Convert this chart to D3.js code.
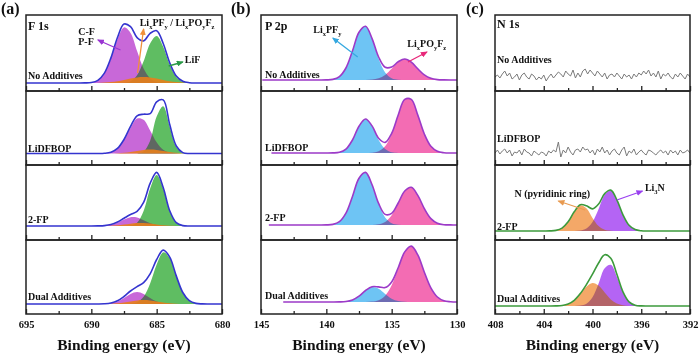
<!DOCTYPE html>
<html>
<head>
<meta charset="utf-8">
<script src="https://cdn.jsdelivr.net/npm/d3@7"></script>
<style>
  body { margin: 0; background: #fff; }
  svg text { font-family: "Liberation Serif", "Times New Roman", serif; font-weight: bold; fill: #111; }
</style>
</head>
<body>
<svg id="xps" width="700" height="354"></svg>
<script>
var samples = ["No Additives", "LiDFBOP", "2-FP", "Dual Additives"];

// F 1s: binding energy grid (eV) and fitted component intensities per sample
var f1sEnergy = [681, 681.5, 682, 682.5, 683, 683.5, 684, 684.5, 685, 685.5, 686,
                 686.5, 687, 687.5, 688, 688.5, 689, 689.5, 690, 690.5, 691];
var f1sCF = [
  [0,0,0,0,0,0,0,0.2,1.0,4.6,14.4,32.0,50.1,55.6,43.7,24.2,9.5,2.6,0.5,0.1,0],
  [0,0,0,0,0,0.2,0.9,3.8,11.2,23.1,33.8,35.0,25.6,13.3,4.9,1.3,0.2,0,0,0,0],
  [0,0,0,0,0,0,0,0.2,1.0,2.8,5.8,8.5,8.8,6.4,3.3,1.2,0.3,0.1,0,0,0],
  [0,0,0,0,0,0,0.2,0.8,2.5,6.0,10.1,12.0,10.1,6.0,2.5,0.8,0.2,0,0,0,0]
];
var f1sLiF = [
  [0,0,0,0.2,1.3,6.0,18.3,36.3,46.9,39.5,21.7,7.8,1.8,0.3,0,0,0,0,0,0,0],
  [0,0,0,0,0.7,6.6,26.6,47.2,36.9,12.7,1.9,0.1,0,0,0,0,0,0,0,0,0],
  [0,0,0,0,0.4,3.2,14.9,37.5,51.0,37.5,14.9,3.2,0.4,0,0,0,0,0,0,0,0],
  [0,0.1,0.6,3.3,11.5,27.9,46.0,51.6,39.4,20.5,7.3,1.8,0.3,0,0,0,0,0,0,0,0]
];
var f1sLiPF = [
  [0,0,0,0.1,0.4,0.9,1.8,3.0,4.4,5.6,6.0,5.6,4.4,3.0,1.8,0.9,0.4,0.1,0,0,0],
  [0,0,0,0,0.2,0.7,1.5,2.6,3.6,4.0,3.6,2.6,1.5,0.7,0.2,0,0,0,0,0,0],
  [0,0,0,0,0,0.1,0.3,0.8,1.6,2.4,2.9,2.9,2.3,1.4,0.7,0.3,0.1,0,0,0,0],
  [0,0,0,0,0,0.2,0.7,1.5,2.6,3.6,4.0,3.6,2.6,1.5,0.7,0.2,0,0,0,0,0]
];
var f1sTicks = [695, 690, 685, 680];
var f1sMinor = [692.5, 687.5, 682.5];

// P 2p
var p2pEnergy = [130, 130.5, 131, 131.5, 132, 132.5, 133, 133.5, 134, 134.5, 135, 135.5,
                 136, 136.5, 137, 137.5, 138, 138.5, 139, 139.5, 140, 140.5, 141];
var p2pLiPF = [
  [0,0,0,0,0,0,0,0,0,0.3,1.8,7.6,21.3,41.0,53.6,47.7,29.0,12.0,3.4,0.6,0.1,0,0],
  [0,0,0,0,0,0,0,0,0,0.1,0.7,3.9,13.0,26.8,34.0,26.8,13.0,3.9,0.7,0.1,0,0,0],
  [0,0,0,0,0,0,0,0,0,0.3,1.8,7.5,20.9,40.2,52.6,46.8,28.5,11.8,3.3,0.6,0.1,0,0],
  [0,0,0,0,0,0,0,0,0.2,0.9,3.3,8.1,13.3,14.9,11.4,5.9,2.1,0.5,0.1,0,0,0,0]
];
var p2pLiPOF = [
  [0,0,0.1,0.4,1.7,5.1,11.2,17.9,21.0,17.9,11.2,5.1,1.7,0.4,0.1,0,0,0,0,0,0,0,0],
  [0,0,0.3,1.7,6.7,19.0,37.9,53.6,53.6,37.9,19.0,6.7,1.7,0.3,0,0,0,0,0,0,0,0,0],
  [0,0.1,0.3,1.8,6.4,16.4,29.6,37.7,34.0,21.7,9.8,3.1,0.7,0.1,0,0,0,0,0,0,0,0,0],
  [0,0.3,1.3,5.0,14.1,29.8,47.1,55.9,49.9,33.4,16.8,6.3,1.8,0.4,0.1,0,0,0,0,0,0,0,0]
];
var p2pTicks = [145, 140, 135, 130];
var p2pMinor = [142.5, 137.5, 132.5];

// N 1s
var n1sEnergy = [395, 395.5, 396, 396.5, 397, 397.5, 398, 398.5, 399, 399.5, 400,
                 400.5, 401, 401.5, 402, 402.5, 403, 403.5, 404];
var n1sPyr = [null, null,
  [0,0,0,0,0,0,0,0.2,1.2,4.9,13.0,22.7,25.8,19.1,9.2,2.9,0.6,0.1,0],
  [0,0,0,0,0.1,0.7,2.4,6.6,13.5,20.4,23.0,19.2,12.0,5.6,1.9,0.5,0.1,0,0]
];
var n1sLi3N = [null, null,
  [0,0,0.2,1.4,5.7,16.2,31.1,40.7,36.2,22.0,9.1,2.6,0.5,0.1,0,0,0,0,0],
  [0,0,0.1,0.8,4.1,13.5,29.3,41.2,37.8,22.6,8.8,2.2,0.4,0,0,0,0,0,0]
];
// raw signal (no N 1s peak), 408 -> 392 eV in 0.2 eV steps
var n1sNoise = [
  [0,2,-1,3,6,1,4,-2,0,3, -3,2,4,0,-2,3,1,-3,0,-2, 2,-4,0,3,-1,2,5,3,0,6,
   3,1,7,-1,4,0,6,8,3,7, 4,1,6,3,0,4,-2,2,3,0, 4,1,-2,3,0,2,-2,3,0,4,
   2,6,3,7,1,4,0,6,-2,3, 1,4,0,-2,3,0,4,1,-2,3, 0],
  [0,3,-1,2,4,0,3,-3,1,0, 3,-2,4,1,0,-3,2,0,-2,1, 0,-3,2,0,3,1,11,-4,3,0,
   6,1,-2,3,4,1,6,3,4,0, 3,-2,4,1,6,0,3,-2,2,4, 0,-2,3,6,-3,2,0,4,-2,1,
   3,0,-2,3,2,0,-2,1,3,0, 2,-2,3,0,2,-2,3,0,1,3, 0],
  null, null
];
var noiseEnergy = d3.range(81).map(function(i) { return 408 - i * 0.2; });
var n1sTicks = [408, 404, 400, 396, 392];
var n1sMinor = [406, 402, 398, 394];

// layout
var rows = [15, 91, 165, 240, 314];

var panels = [
  { letter: "(a)", letterX: 1, left: 26, right: 222, domain: [695, 680],
    major: f1sTicks, minor: f1sMinor, element: "F 1s", energy: f1sEnergy,
    comps: [
      { series: f1sCF, color: "#c868d8", blend: "darken", opacity: 1 },
      { series: f1sLiF, color: "#5fbd62", blend: "darken", opacity: 1 },
      { series: f1sLiPF, color: "#e8801c", blend: "normal", opacity: 0.9 }
    ],
    line: "#3434cf", lineStart: [695, 695, 695, 695],
    base: [8, 11.5, 14, 10], labelY: [79, 152, 223, 300], labelDx: 2, elemY: 30 },
  { letter: "(b)", letterX: 231, left: 261, right: 457, domain: [145, 130],
    major: p2pTicks, minor: p2pMinor, element: "P 2p", energy: p2pEnergy,
    comps: [
      { series: p2pLiPF, color: "#6ec4f4", blend: "darken", opacity: 1 },
      { series: p2pLiPOF, color: "#f36cb3", blend: "darken", opacity: 1 }
    ],
    line: "#9c3ac8", lineStart: [144.9, 144.2, 144.4, 143.3],
    base: [11, 12, 15, 12], labelY: [78, 151, 221, 299], labelDx: 4, elemY: 30 },
  { letter: "(c)", letterX: 466, left: 495, right: 690, domain: [408, 392],
    major: n1sTicks, minor: n1sMinor, element: "N 1s", energy: n1sEnergy,
    comps: [
      { series: n1sPyr, color: "#f4a868", blend: "darken", opacity: 1 },
      { series: n1sLi3N, color: "#b464f4", blend: "darken", opacity: 1 }
    ],
    noise: n1sNoise,
    line: "#3c9a3c", lineStart: [408, 408, 408, 408],
    base: [14, 12, 9, 8], labelY: [63, 142, 230, 302], labelDx: 2, elemY: 28 }
];

// annotations (energy, intensity) on a given sub-plot
var annotations = [
  { panel: 0, row: 0, parts: [["C-F"]], at: [691.0, 48] },
  { panel: 0, row: 0, parts: [["P-F"]], at: [691.0, 38] },
  { panel: 0, row: 0, parts: [["Li"], ["x", 1], ["PF"], ["y", 1], [" / Li"], ["x", 1], ["PO"], ["y", 1], ["F"], ["z", 1]], at: [686.3, 57] },
  { panel: 0, row: 0, parts: [["LiF"]], at: [682.85, 20] },
  { panel: 1, row: 0, parts: [["Li"], ["x", 1], ["PF"], ["y", 1]], at: [141.0, 47] },
  { panel: 1, row: 0, parts: [["Li"], ["x", 1], ["PO"], ["y", 1], ["F"], ["z", 1]], at: [133.8, 33] },
  { panel: 2, row: 2, parts: [["N (pyridinic ring)"]], at: [406.4, 34] },
  { panel: 2, row: 2, parts: [["Li"], ["3", 1], ["N"]], at: [395.7, 40] }
];
var arrows = [
  { panel: 0, row: 0, from: [687.77, 33], to: [689.5, 43], color: "#9a35d2" },
  { panel: 0, row: 0, from: [686.46, 10], to: [686.0, 54], color: "#f0903a" },
  { panel: 0, row: 0, from: [684.08, 17], to: [683.0, 21], color: "#2a9a48" },
  { panel: 1, row: 0, from: [137.6, 23], to: [139.5, 42], color: "#35a8e0" },
  { panel: 1, row: 0, from: [133.75, 18], to: [132.3, 28], color: "#e8287a" },
  { panel: 2, row: 2, from: [400.6, 21], to: [402.8, 30], color: "#e89a50" },
  { panel: 2, row: 2, from: [398.0, 31], to: [395.9, 40], color: "#9a40f0" }
];

var svg = d3.select("#xps");
var defs = svg.append("defs");

function richText(g, x, y, parts, size) {
  var t = g.append("text").attr("x", x).attr("y", y).attr("font-size", size);
  var shifted = 0;
  parts.forEach(function(pt) {
    var want = pt[1] ? size * 0.3 : 0;
    var s = t.append("tspan").text(pt[0]).attr("dy", want - shifted);
    if (pt[1]) s.attr("font-size", size * 0.65);
    shifted = want;
  });
  return t;
}

function yFor(p, k) {
  var b = rows[k + 1] - p.base[k];
  return d3.scaleLinear().domain([0, 60]).range([b, b - 60]);
}

var xs = [];

panels.forEach(function(p, pi) {
  var x = d3.scaleLinear().domain(p.domain).range([p.left, p.right]);
  xs.push(x);
  var g = svg.append("g");

  defs.append("clipPath").attr("id", "clip" + pi)
    .append("rect").attr("x", p.left).attr("y", rows[0])
    .attr("width", p.right - p.left).attr("height", rows[4] - rows[0]);
  var plot = g.append("g").attr("clip-path", "url(#clip" + pi + ")");

  for (var k = 0; k < 4; k++) {
    var y = yFor(p, k);
    var has = p.comps[0].series[k];

    if (has) {
      var area = d3.area()
        .x(function(d) { return x(d[0]); })
        .y0(y(0))
        .y1(function(d) { return y(d[1]); })
        .curve(d3.curveCatmullRom.alpha(0.5));

      p.comps.forEach(function(c) {
        var pts = p.energy.map(function(e, i) { return [e, c.series[k][i]]; });
        plot.append("path")
          .datum(pts)
          .attr("d", area)
          .attr("fill", c.color)
          .attr("fill-opacity", c.opacity)
          .style("mix-blend-mode", c.blend);
      });

      // envelope = sum of fitted components
      var kk = k;
      var env = p.energy.map(function(e, i) {
        return [e, d3.sum(p.comps, function(c) { return c.series[kk][i]; })];
      });
      var lo = Math.min(p.domain[0], p.domain[1]);
      if (env[0][0] > lo) env.unshift([lo, 0]);
      if (env[env.length - 1][0] < p.lineStart[k]) env.push([p.lineStart[k], 0]);

      plot.append("path")
        .datum(env)
        .attr("d", d3.line()
          .x(function(d) { return x(d[0]); })
          .y(function(d) { return y(d[1]); })
          .curve(d3.curveCatmullRom.alpha(0.5)))
        .attr("fill", "none")
        .attr("stroke", p.line)
        .attr("stroke-width", 1.6);
    }

    if (p.noise && p.noise[k]) {
      var nz = noiseEnergy.map(function(e, i) { return [e, p.noise[k][i]]; });
      plot.append("path")
        .datum(nz)
        .attr("d", d3.line()
          .x(function(d) { return x(d[0]); })
          .y(function(d) { return y(d[1]); }))
        .attr("fill", "none")
        .attr("stroke", "#7a7a7a")
        .attr("stroke-width", 1);
    }

    // frame
    g.append("rect")
      .attr("x", p.left).attr("y", rows[k])
      .attr("width", p.right - p.left).attr("height", rows[k + 1] - rows[k])
      .attr("fill", "none").attr("stroke", "#222").attr("stroke-width", 1.5);

    // inward ticks
    var gMaj = g.append("g").attr("transform", "translate(0," + rows[k + 1] + ")")
      .call(d3.axisTop(x).tickValues(p.major).tickSize(5).tickFormat(""));
    var gMin = g.append("g").attr("transform", "translate(0," + rows[k + 1] + ")")
      .call(d3.axisTop(x).tickValues(p.minor).tickSize(3).tickFormat(""));
    [gMaj, gMin].forEach(function(a) {
      a.select(".domain").remove();
      a.selectAll("line").attr("stroke", "#222").attr("stroke-width", 1.3);
    });

    g.append("text")
      .attr("x", p.left + p.labelDx).attr("y", p.labelY[k])
      .attr("font-size", 10)
      .text(samples[k]);
  }

  // tick labels
  var gLab = g.append("g").attr("transform", "translate(0," + rows[4] + ")")
    .call(d3.axisBottom(x).tickValues(p.major).tickSize(0).tickPadding(7));
  gLab.select(".domain").remove();
  gLab.selectAll("text")
    .attr("font-size", 10.5)
    .attr("font-family", "Liberation Serif, serif")
    .attr("fill", "#111");

  g.append("text")
    .attr("x", (p.left + p.right) / 2).attr("y", 350)
    .attr("text-anchor", "middle").attr("font-size", 15.5)
    .text("Binding energy (eV)");

  g.append("text").attr("x", p.left + p.labelDx).attr("y", p.elemY)
    .attr("font-size", 12).text(p.element);

  g.append("text").attr("x", p.letterX).attr("y", 14)
    .attr("font-size", 16).text(p.letter);
});

// arrows
arrows.forEach(function(a, i) {
  var p = panels[a.panel], x = xs[a.panel], y = yFor(p, a.row);
  defs.append("marker").attr("id", "head" + i)
    .attr("markerUnits", "userSpaceOnUse")
    .attr("markerWidth", 7).attr("markerHeight", 6)
    .attr("refX", 6).attr("refY", 3).attr("orient", "auto")
    .append("path").attr("d", "M0,0L7,3L0,6Z").attr("fill", a.color);
  svg.append("line")
    .attr("x1", x(a.from[0])).attr("y1", y(a.from[1]))
    .attr("x2", x(a.to[0])).attr("y2", y(a.to[1]))
    .attr("stroke", a.color).attr("stroke-width", 1.3)
    .attr("marker-end", "url(#head" + i + ")");
});

annotations.forEach(function(a) {
  var p = panels[a.panel], x = xs[a.panel], y = yFor(p, a.row);
  richText(svg, x(a.at[0]), y(a.at[1]), a.parts, 10);
});
</script>
</body>
</html>
